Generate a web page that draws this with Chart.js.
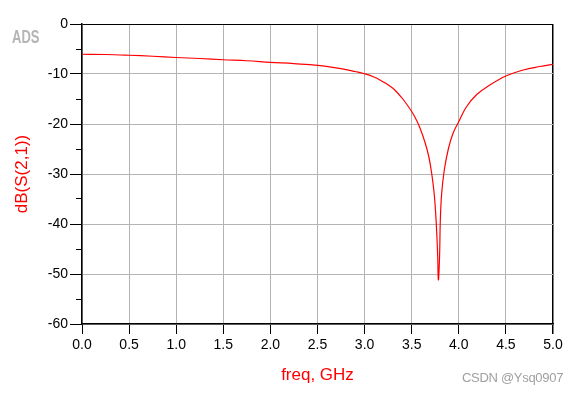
<!DOCTYPE html>
<html>
<head>
<meta charset="utf-8">
<script src="https://cdn.jsdelivr.net/npm/chart.js@4"></script>
<style>
  body { margin: 0; background: #fff; }
  #wrap { position: relative; width: 576px; height: 393px; }
  #ads {
    position: absolute; left: 12px; top: 30px;
    font: bold 13px Arial, "Liberation Sans", sans-serif; line-height: 13px;
    color: #b5b5b5; transform: scaleY(1.4); filter: blur(0.4px);
  }
  #mark {
    position: absolute; left: 462px; top: 371px;
    font: 13px Arial, "Liberation Sans", sans-serif; line-height: 13px;
    color: #a0a0a0; letter-spacing: -0.3px;
  }
</style>
</head>
<body>
<div id="wrap">
  <canvas id="chart" width="576" height="393"></canvas>
  <div id="ads">ADS</div>
  <div id="mark">CSDN @Ysq0907</div>
</div>
<script>
// values
const freqGHz = [0, 0.25, 0.5, 0.75, 1.0, 1.25, 1.5, 1.75, 2.0, 2.25, 2.5, 2.75, 2.9, 3.0, 3.1, 3.2,
  3.26, 3.32, 3.41, 3.5, 3.55, 3.59, 3.64, 3.68, 3.71, 3.74, 3.761, 3.776, 3.783, 3.795, 3.804, 3.818,
  3.846, 3.89, 3.94, 4.0, 4.08, 4.19, 4.33, 4.5, 4.685, 4.862, 5.0];
const s21dB = [-6.05, -6.1, -6.25, -6.45, -6.7, -6.9, -7.15, -7.35, -7.67, -7.93, -8.27, -8.93, -9.5, -9.95, -10.6, -11.6,
  -12.3, -13.2, -15.1, -17.5, -19.2, -20.9, -23.6, -26.4, -29.6, -34.2, -40, -46.5, -51.2, -47, -39.2, -33.9,
  -29.2, -24.9, -21.8, -19.5, -16.6, -14.1, -12.2, -10.4, -9.2, -8.5, -8.07];
const xTicks = [0, 0.5, 1.0, 1.5, 2.0, 2.5, 3.0, 3.5, 4.0, 4.5, 5.0];
const yTicks = [0, -10, -20, -30, -40, -50, -60];

const red = '#ff0000';
const gridGray = '#b4b4b4';
const tickFont = { family: 'Arial, "Liberation Sans", sans-serif', size: 14 };
const titleFont = { family: 'Arial, "Liberation Sans", sans-serif', size: 17 };

const points = freqGHz.map((f, i) => ({ x: f, y: s21dB[i] }));

new Chart(document.getElementById('chart'), {
  type: 'line',
  data: {
    datasets: [{
      data: points,
      borderColor: red,
      borderWidth: 1.2,
      pointRadius: 0,
      tension: 0.4,
      fill: false
    }]
  },
  options: {
    responsive: false,
    animation: false,
    layout: { padding: { top: 24, right: 23, left: 0, bottom: 0 } },
    plugins: { legend: { display: false }, tooltip: { enabled: false } },
    scales: {
      x: {
        type: 'linear',
        min: xTicks[0],
        max: xTicks[xTicks.length - 1],
        afterFit: s => { s.height = 69; },
        afterBuildTicks: s => { s.ticks = xTicks.map(v => ({ value: v })); },
        ticks: {
          color: '#000', font: tickFont, padding: 3, maxRotation: 0,
          callback: v => Number(v).toFixed(1)
        },
        grid: {
          color: c => c.tick && c.tick.value === 5 ? '#000' : gridGray,
          lineWidth: c => c.tick && c.tick.value === 5 ? 1.5 : 1,
          tickColor: '#000',
          tickLength: 10
        },
        border: { color: '#000', width: 1.5 },
        title: {
          display: true, text: 'freq, GHz', color: red, font: titleFont,
          padding: { top: 0, bottom: 7 }
        }
      },
      y: {
        min: yTicks[yTicks.length - 1],
        max: yTicks[0],
        afterFit: s => { s.width = 82; },
        afterBuildTicks: s => {
          const t = [];
          for (let v = yTicks[0]; v >= yTicks[yTicks.length - 1]; v -= 5) t.push({ value: v });
          s.ticks = t;
        },
        ticks: {
          color: '#000', font: tickFont, padding: 2,
          callback: v => yTicks.includes(v) ? String(v) : ''
        },
        grid: {
          color: c => {
            const v = c.tick ? c.tick.value : 1;
            if (v === 0) return '#000';
            return yTicks.includes(v) ? gridGray : 'rgba(0,0,0,0)';
          },
          tickColor: '#000',
          tickLength: 12,
          tickBorderDash: c => (c.tick && !yTicks.includes(c.tick.value)) ? [0, 6, 6, 100] : []
        },
        border: { color: '#000', width: 1.5 },
        title: {
          display: true, text: 'dB(S(2,1))', color: red, font: titleFont,
          padding: { top: 12, bottom: 0 }
        }
      }
    }
  }
});
</script>
</body>
</html>
